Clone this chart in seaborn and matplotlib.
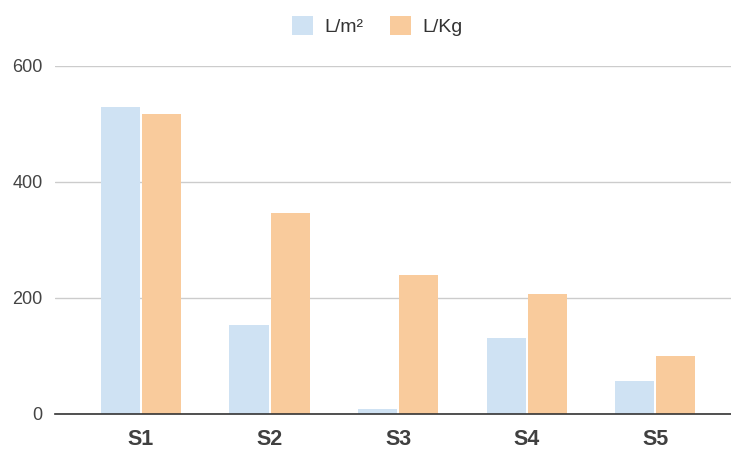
import matplotlib
matplotlib.use("Agg")
import matplotlib.pyplot as plt
import seaborn as sns
import pandas as pd

# Data
categories = ["S1", "S2", "S3", "S4", "S5"]
per_m2 = [529, 154, 9, 131, 57]
per_kg = [517, 347, 240, 207, 100]
series_names = ["L/m²", "L/Kg"]
y_ticks = [0, 200, 400, 600]

df = pd.DataFrame({
    "cat": categories * 2,
    "value": per_m2 + per_kg,
    "series": [series_names[0]] * len(categories) + [series_names[1]] * len(categories),
})

sns.set_theme(style="white")
plt.rcParams["font.family"] = ["Liberation Sans", "DejaVu Sans"]

fig = plt.figure(figsize=(7.31, 4.51), dpi=100)
W, H = 731, 451
ax = fig.add_axes([55 / W, 37 / H, (W - 55) / W, (414 - 66) / H])

sns.barplot(
    data=df, x="cat", y="value", hue="series", order=categories,
    hue_order=series_names, palette=["#cfe2f3", "#f9cb9c"],
    width=0.64, gap=0.05, saturation=1, ax=ax, linewidth=0,
)

ax.set_ylim(0, 600)
ax.set_xlim(-0.669, 4.59)
ax.set_yticks(y_ticks)
ax.set_yticklabels([str(t) for t in y_ticks], fontsize=13, color="#444444")
ax.tick_params(axis="y", length=0, pad=9)
ax.tick_params(axis="x", length=0, pad=11)
for lbl in ax.get_xticklabels():
    lbl.set_fontsize(15.5)
    lbl.set_fontweight("bold")
    lbl.set_color("#404040")
ax.set_xlabel("")
ax.set_ylabel("")

ax.yaxis.grid(True, color="#cccccc", linewidth=1)
ax.set_axisbelow(True)
for side in ["top", "right", "left"]:
    ax.spines[side].set_visible(False)
ax.spines["bottom"].set_color("#333333")
ax.spines["bottom"].set_linewidth(1.2)
ax.spines["bottom"].set_zorder(5)

handles, labels = ax.get_legend_handles_labels()
ax.get_legend().remove()
fig.legend(
    handles, labels, loc="center", bbox_to_anchor=(377 / W, 1 - 26 / H),
    ncol=2, frameon=False, fontsize=14, handlelength=1.1, handleheight=1.1,
    handletextpad=0.57, columnspacing=1.35, labelcolor="#333333",
)

fig.savefig("out.png", dpi=100, facecolor="white")
